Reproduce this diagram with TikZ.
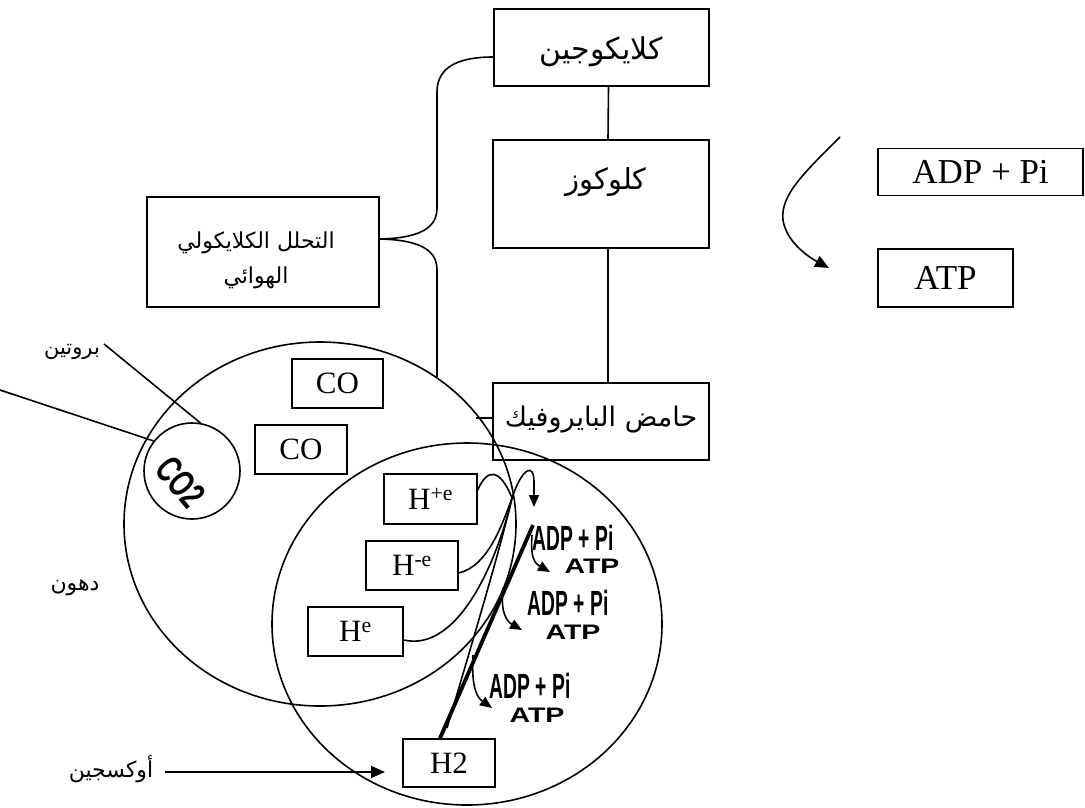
\documentclass[tikz,border=0pt]{standalone}
\usepackage{fontspec}
\setmainfont{Liberation Serif}
\newfontfamily\arabicfont[Script=Arabic]{DejaVu Sans}
\newfontfamily\boldsans{Liberation Sans}
\TeXXeTstate=1
\usetikzlibrary{arrows.meta,shapes.geometric}
\begin{document}
\begin{tikzpicture}[x=1pt,y=-1pt,line width=1.6pt,
  bx/.style={draw,line width=1.6pt,inner sep=0pt},
  tm/.style={font=\fontsize{31}{31}\selectfont},
  tml/.style={font=\fontsize{35}{35}\selectfont},
  arb/.style={font=\fontsize{#1}{#1}\selectfont\arabicfont},
  arb/.default=22,
  tip/.style={-{Triangle[length=14pt,width=12pt]}},
  stip/.style={-{Triangle[length=12pt,width=10pt]}},
  thk/.style={line width=3.8pt},
  adp/.style={inner sep=0pt},
]
\useasboundingbox (0,0) rectangle (1085,807);

% boxes on the right column
\node[bx,minimum width=215,minimum height=77] (glyco) at (601.5,47.5) {};
\node[arb=30] at (601.5,52) {\beginR كلايكوجين\endR};
\node[bx,minimum width=216,minimum height=108] (gluc) at (601,194) {};
\node[arb=29] at (606,182) {\beginR كلوكوز\endR};
\node[bx,minimum width=216,minimum height=77] (pyr) at (601,421.5) {};
\node[arb=27] at (601,420) {\beginR حامض البايروفيك\endR};
\node[bx,minimum width=232,minimum height=110] (glyc) at (263,252) {};
\node[arb=22,align=center] at (256,260) {\beginR التحلل الكلايكولي\endR\\[12pt]\beginR الهوائي\endR};

\draw ([xshift=7pt]glyco.south) -- ([xshift=7pt]gluc.north);
\draw ([xshift=7pt]gluc.south) -- ([xshift=7pt]pyr.north);

% ATP boxes on the right
\node[bx,tml,minimum width=205,minimum height=47] (adpbox) at (980.5,172) {ADP + Pi};
\node[bx,tml,minimum width=135,minimum height=58] (atpbox) at (945.5,278) {ATP};
\coordinate (rs) at (840,137);
\coordinate (re) at (829,268);
\draw[tip] (rs) .. controls (805,172) and (780,195) .. (783,220) .. controls (786,240) and (805,255) .. (re);

% big circles
\node[draw,ellipse,inner sep=0pt,minimum width=392,minimum height=364] (lc) at (320,524) {};
\node[draw,ellipse,inner sep=0pt,minimum width=390,minimum height=362] (rc) at (467,624) {};

% brace
\coordinate (bl) at (437,377);
\draw ([yshift=13pt]glyc.east) .. controls (425,238) and (437,225) .. (437,208) -- (437,92)
   .. controls (437,66) and (460,57) .. ([yshift=-9.5pt]glyco.west);
\draw ([yshift=13pt]glyc.east) .. controls (425,240) and (437,253) .. (437,270) -- (bl);

\coordinate (pl) at (476,418);
\draw (pl) -- (pl -| pyr.west);

% CO boxes
\node[bx,tm,minimum width=91,minimum height=49] (co1) at (337.5,383.5) {CO};
\node[bx,tm,minimum width=92,minimum height=49] (co2) at (301,449.5) {CO};

% small circle CO2
\node[draw,circle,inner sep=0pt,minimum size=96] (sc) at (192,471) {};
\node[rotate=-50,inner sep=0pt] at (181,482) {\scalebox{0.68}[1]{\fontsize{38}{38}\boldsans\bfseries CO2}};

% protein
\node[arb=21] (prl) at (72,352) {\beginR بروتين\endR};
\coordinate (ps) at (104,344);
\draw (ps) -- (sc.80);
\coordinate (ls) at (0,390);
\draw (ls) -- (sc.142);

\node[arb=22] (fat) at (75,588) {\beginR دهون\endR};

% H boxes
\node[bx,tm,minimum width=93,minimum height=50] (hpe) at (430.5,499) {H\textsuperscript{+e}};
\node[bx,tm,minimum width=92,minimum height=49] (hme) at (412,565.5) {H\textsuperscript{-e}};
\node[bx,tm,minimum width=95,minimum height=49] (he) at (355.5,631.5) {H\textsuperscript{e}};
\node[bx,tm,minimum width=92,minimum height=48] (h2) at (449,763) {H2};

% oxygen
\node[arb=22] (oxy) at (111,769) {\beginR أوكسجين\endR};
\coordinate (oe) at (385,772);
\draw[tip] (oxy.east |- oe) ++(8,0) -- (oe);

% crossing curves
\coordinate (x) at (512,498);
\draw ([yshift=9pt]hpe.east) .. controls (487,468) and (500,468) .. (x)
   .. controls (500,550) and (470,650) .. (447,728);
\draw ([yshift=-7.5pt]hme.east) .. controls (488,566) and (502,525) .. (x);
\draw ([yshift=-8.5pt]he.east) .. controls (455,652) and (495,570) .. (x);
\coordinate (at1) at (534,507);
\draw[stip] (x) .. controls (522,468) and (534,462) .. (534,482) -- (at1);

% thick line
\coordinate (tt) at (533,525);
\draw[thk] ([xshift=-9pt]h2.north) -- (tt);

% ADP arrows
\draw[stip] (532,535) .. controls (530,560) and (536,564) .. (550,572);
\draw[stip] (503,588) .. controls (500,615) and (508,622) .. (522,630);
\draw[stip] (473,655) .. controls (471,690) and (478,698) .. (492,708);

\node[adp] at (573,538) {\scalebox{0.55}[1]{\fontsize{35}{35}\boldsans\bfseries ADP + Pi}};
\node[adp] at (592,566) {\scalebox{1.36}[1]{\fontsize{21}{21}\boldsans\bfseries ATP}};
\node[adp] at (568,603) {\scalebox{0.55}[1]{\fontsize{35}{35}\boldsans\bfseries ADP + Pi}};
\node[adp] at (573,632) {\scalebox{1.36}[1]{\fontsize{21}{21}\boldsans\bfseries ATP}};
\node[adp] at (530,686) {\scalebox{0.55}[1]{\fontsize{35}{35}\boldsans\bfseries ADP + Pi}};
\node[adp] at (537,715) {\scalebox{1.36}[1]{\fontsize{21}{21}\boldsans\bfseries ATP}};
\end{tikzpicture}
\end{document}
